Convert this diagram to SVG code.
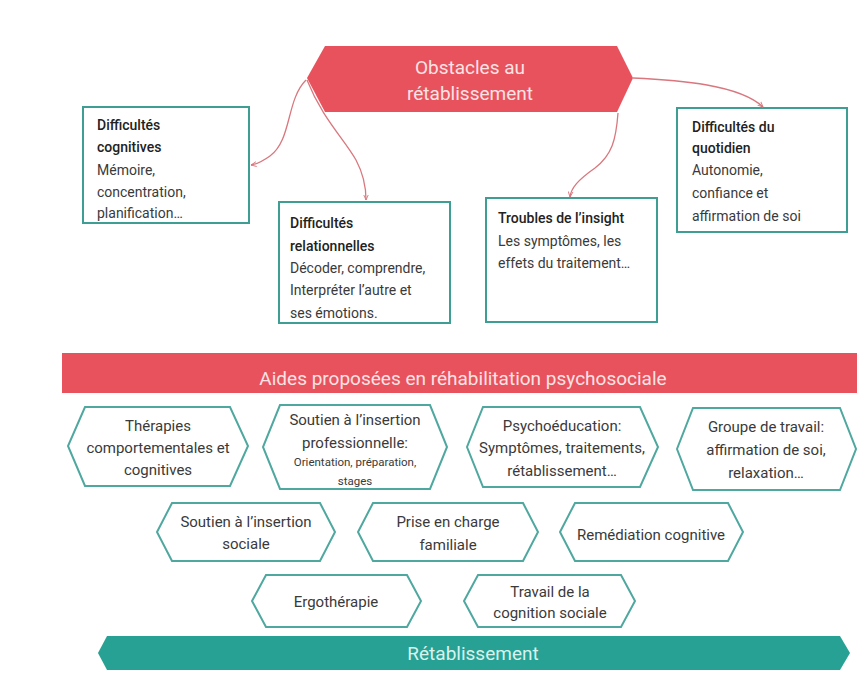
<svg xmlns="http://www.w3.org/2000/svg" width="857" height="686" viewBox="0 0 857 686">
<defs>
<marker id="arr" viewBox="0 0 10 10" refX="9" refY="5" markerWidth="6" markerHeight="6" orient="auto" markerUnits="userSpaceOnUse">
<path d="M0,1 L9,5 L0,9" fill="none" stroke="#d9777e" stroke-width="1.5"/>
</marker>
<style>
text{font-family:Roboto,"Liberation Sans",sans-serif;fill:#3a3a3a}
.box{fill:#fff;stroke:#3f9e94;stroke-width:2}
.hex{fill:#fff;stroke:#4fa89f;stroke-width:2}
.t{font-size:14px}
.tb{font-size:14px;font-weight:500;fill:#222}
.h{font-size:15px;text-anchor:middle}
.hs{font-size:11.5px;text-anchor:middle}
.w{fill:#fbe3e4;text-anchor:middle}
.con{fill:none;stroke:#d9777e;stroke-width:1.3}
</style>
</defs>
<rect width="857" height="686" fill="#fff"/>

<g id="obstacles">
<polygon points="325,46 617,46 633,78 617,112 325,112 307,78" fill="#e8525d"/>
<text class="w" x="470" y="74" font-size="19">Obstacles au</text>
<text class="w" x="470" y="100" font-size="19">rétablissement</text>
</g>

<g id="cognitives">
<rect class="box" x="83" y="107" width="166" height="116"/>
<text class="tb" x="97" y="130">Difficultés</text>
<text class="tb" x="97" y="152">cognitives</text>
<text class="t" x="97" y="175">Mémoire,</text>
<text class="t" x="97" y="197">concentration,</text>
<text class="t" x="97" y="218">planification…</text>
</g>

<g id="relationnelles">
<rect class="box" x="279" y="202" width="171" height="121"/>
<text class="tb" x="290" y="228">Difficultés</text>
<text class="tb" x="290" y="251">relationnelles</text>
<text class="t" x="290" y="273">Décoder, comprendre,</text>
<text class="t" x="290" y="295">Interpréter l’autre et</text>
<text class="t" x="290" y="318">ses émotions.</text>
</g>

<g id="insight">
<rect class="box" x="486" y="198" width="171" height="124"/>
<text class="tb" x="498" y="223">Troubles de l’insight</text>
<text class="t" x="498" y="246">Les symptômes, les</text>
<text class="t" x="498" y="268">effets du traitement…</text>
</g>

<g id="quotidien">
<rect class="box" x="677" y="108" width="170" height="124"/>
<text class="tb" x="692" y="132">Difficultés du</text>
<text class="tb" x="692" y="153">quotidien</text>
<text class="t" x="692" y="175">Autonomie,</text>
<text class="t" x="692" y="198">confiance et</text>
<text class="t" x="692" y="221">affirmation de soi</text>
</g>

<g id="connectors">
<path class="con" d="M306,80 C286,100 292,140 270,156 C263,161 257,164 251,165" marker-end="url(#arr)"/>
<path class="con" d="M307,80 C322,118 345,140 356,160 C364,175 366,188 366,200" marker-end="url(#arr)"/>
<path class="con" d="M618,113 C616,140 612,155 595,168 C578,180 571,188 570,197" marker-end="url(#arr)"/>
<path class="con" d="M633,78 C680,80 740,85 763,107" marker-end="url(#arr)"/>
</g>

<g id="aides">
<rect x="62" y="353" width="795" height="40" fill="#e8525d"/>
<text class="w" x="463" y="385" font-size="19">Aides proposées en réhabilitation psychosociale</text>
</g>

<g id="tcc">
<polygon class="hex" points="85,407 230,407 248,446 230,486 85,486 68,446"/>
<text class="h" x="158" y="431">Thérapies</text>
<text class="h" x="158" y="453">comportementales et</text>
<text class="h" x="158" y="475">cognitives</text>
</g>

<g id="pro">
<polygon class="hex" points="280,405 430,405 447,447 430,489 280,489 263,447"/>
<text class="h" x="355" y="425">Soutien à l’insertion</text>
<text class="h" x="355" y="448">professionnelle:</text>
<text class="hs" x="355" y="466">Orientation, préparation,</text>
<text class="hs" x="355" y="485">stages</text>
</g>

<g id="psychoeducation">
<polygon class="hex" points="483,407 640,407 658,447 640,487 483,487 467,447"/>
<text class="h" x="562" y="431">Psychoéducation:</text>
<text class="h" x="562" y="453">Symptômes, traitements,</text>
<text class="h" x="562" y="476">rétablissement…</text>
</g>

<g id="groupe">
<polygon class="hex" points="693,408 840,408 856,449 840,490 693,490 677,449"/>
<text class="h" x="766" y="432">Groupe de travail:</text>
<text class="h" x="766" y="455">affirmation de soi,</text>
<text class="h" x="766" y="478">relaxation…</text>
</g>

<g id="sociale">
<polygon class="hex" points="172,503 320,503 335,532 320,561 172,561 157,532"/>
<text class="h" x="246" y="527">Soutien à l’insertion</text>
<text class="h" x="246" y="549">sociale</text>
</g>

<g id="familiale">
<polygon class="hex" points="373,503 523,503 538,532 523,561 373,561 358,532"/>
<text class="h" x="448" y="527">Prise en charge</text>
<text class="h" x="448" y="550">familiale</text>
</g>

<g id="remediation">
<polygon class="hex" points="575,503 728,503 743,532 728,561 575,561 560,532"/>
<text class="h" x="651" y="540">Remédiation cognitive</text>
</g>

<g id="ergo">
<polygon class="hex" points="266,575 407,575 421,601 407,627 266,627 252,601"/>
<text class="h" x="336" y="607">Ergothérapie</text>
</g>

<g id="cognition">
<polygon class="hex" points="478,575 621,575 635,601 621,627 478,627 464,601"/>
<text class="h" x="550" y="597">Travail de la</text>
<text class="h" x="550" y="618">cognition sociale</text>
</g>

<g id="retablissement">
<polygon points="107,636 840,636 850,653 840,670 107,670 98,653" fill="#27a193"/>
<text x="473" y="660" font-size="19" text-anchor="middle" style="fill:#d8f2ee">Rétablissement</text>
</g>
</svg>
